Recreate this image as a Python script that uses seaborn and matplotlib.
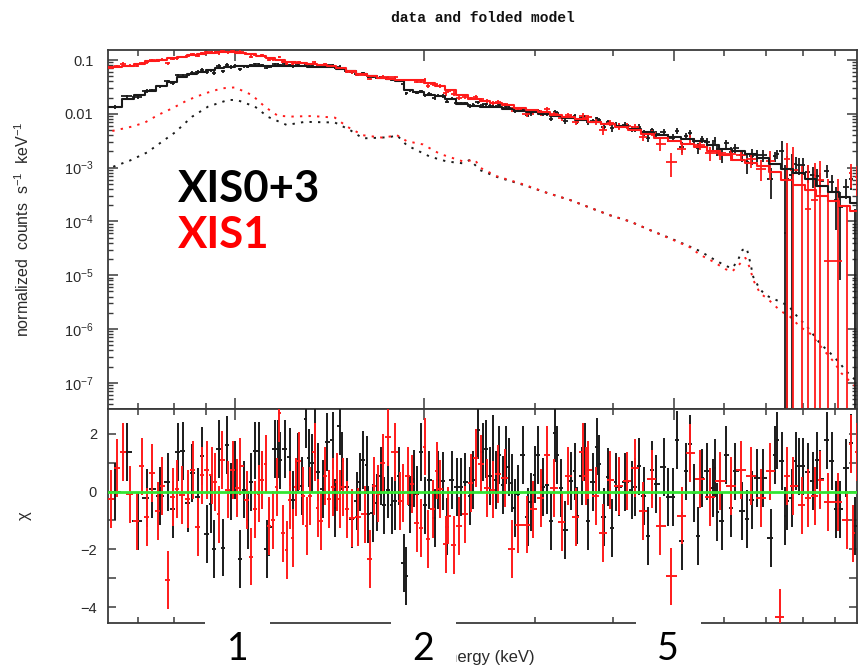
import numpy as np
import matplotlib
matplotlib.use("Agg")
import matplotlib.pyplot as plt
from matplotlib.patches import Rectangle
from matplotlib.ticker import FixedLocator, FixedFormatter, LogLocator, NullFormatter
import seaborn as sns

sns.set_style("ticks")
plt.rcParams["font.family"] = ["Liberation Sans", "DejaVu Sans"]
plt.rcParams["mathtext.fontset"] = "custom"
plt.rcParams["mathtext.rm"] = "Liberation Sans"
plt.rcParams["mathtext.it"] = "Liberation Sans:italic"
plt.rcParams["mathtext.bf"] = "Liberation Sans:bold"

# ---------------------------------------------------------------------------
# Folded model (counts s^-1 keV^-1) on a common energy grid (keV)
# ---------------------------------------------------------------------------
model_edges = [0.628, 0.66, 0.69, 0.72, 0.75, 0.78, 0.81, 0.84, 0.87, 0.90,
               0.93, 0.96, 1.00, 1.04, 1.08, 1.12, 1.16, 1.20, 1.25, 1.30,
               1.35, 1.40, 1.45, 1.50, 1.56, 1.62, 1.68, 1.74, 1.80, 1.86,
               1.92, 2.00, 2.08, 2.16, 2.25, 2.35, 2.45, 2.55, 2.66, 2.78,
               2.90, 3.03, 3.17, 3.32, 3.48, 3.65, 3.83, 4.02, 4.22, 4.43,
               4.65, 4.88, 5.12, 5.37, 5.63, 5.90, 6.18, 6.47, 6.77, 7.08,
               7.40, 7.73, 8.07, 8.42, 8.78, 9.15, 9.53, 9.80]

model_xis03 = [0.0134, 0.019, 0.0228, 0.027, 0.033, 0.0395, 0.048, 0.055, 0.061, 0.066,
               0.071, 0.074, 0.076, 0.078, 0.079, 0.079, 0.078, 0.077, 0.076, 0.075,
               0.075, 0.073, 0.068, 0.062, 0.055, 0.051, 0.047, 0.044, 0.041, 0.028,
               0.025, 0.0228, 0.021, 0.0185, 0.0155, 0.0142, 0.0136, 0.0133, 0.0125, 0.0115,
               0.0106, 0.0099, 0.0091, 0.0085, 0.0078, 0.0071, 0.0065, 0.0059, 0.0052, 0.0045,
               0.0040, 0.0037, 0.0034, 0.0031, 0.0026, 0.0022, 0.0020, 0.0018, 0.0015, 0.00118,
               0.00095, 0.00078, 0.00062, 0.00046, 0.00036, 0.00029, 0.00022]

model_xis1 = [0.073, 0.079, 0.084, 0.095, 0.101, 0.107, 0.115, 0.122, 0.130, 0.135,
              0.139, 0.140, 0.138, 0.130, 0.120, 0.108, 0.099, 0.093, 0.088, 0.085,
              0.082, 0.078, 0.070, 0.062, 0.055, 0.050, 0.047, 0.045, 0.043, 0.042,
              0.042, 0.038, 0.033, 0.028, 0.022, 0.019, 0.0172, 0.0160, 0.0145, 0.0130,
              0.0117, 0.0107, 0.0097, 0.0089, 0.0080, 0.0072, 0.0064, 0.0057, 0.0050, 0.0042,
              0.0036, 0.0031, 0.0027, 0.0024, 0.0020, 0.0017, 0.0014, 0.0012, 0.00105, 0.00082,
              0.00060, 0.00047, 0.00038, 0.00030, 0.00024, 0.00019, 0.000155]

# fractional 1-sigma errors of the binned data, per model bin
ferr_xis03 = ([0.08] * 3 + [0.07] * 9 + [0.05] * 19 + [0.07] * 9 + [0.10] * 6
              + [0.13] * 4 + [0.17] * 4 + [0.22] * 3 + [0.30] * 2 + [0.30]
              + [1.1] + [0.5] * 4 + [0.6] + [1.1])
ferr_xis1 = ([0.06] * 12 + [0.05] * 19 + [0.08] * 9 + [0.12] * 6 + [0.15] * 4
             + [0.20] * 4 + [0.28] * 3 + [0.38] * 2 + [0.9] + [2.5] * 7)

# ---------------------------------------------------------------------------
# Data bins (keV) and residuals (chi)
# ---------------------------------------------------------------------------
e_xis03 = [0.644, 0.673, 0.700, 0.724, 0.737, 0.759, 0.782, 0.797, 0.811, 0.826,
           0.841, 0.854, 0.873, 0.886, 0.902, 0.915, 0.926, 0.942, 0.957, 0.971,
           0.985, 1.000, 1.019, 1.033, 1.048, 1.060, 1.076, 1.091, 1.104, 1.124,
           1.132, 1.158, 1.170, 1.179, 1.201, 1.223, 1.237, 1.259, 1.278, 1.297,
           1.311, 1.326, 1.341, 1.355, 1.380, 1.400, 1.432, 1.442, 1.469, 1.480,
           1.507, 1.535, 1.563, 1.581, 1.598, 1.622, 1.627, 1.658, 1.682, 1.707,
           1.726, 1.751, 1.777, 1.797, 1.823, 1.857, 1.871, 1.899, 1.927, 1.948,
           1.977, 2.006, 2.035, 2.081, 2.103, 2.143, 2.174, 2.215, 2.255, 2.289,
           2.323, 2.366, 2.392, 2.435, 2.481, 2.508, 2.546, 2.574, 2.602, 2.630,
           2.670, 2.699, 2.728, 2.759, 2.790, 2.820, 2.873, 2.925, 2.958, 3.002,
           3.034, 3.091, 3.136, 3.183, 3.230, 3.253, 3.302, 3.351, 3.425, 3.476,
           3.501, 3.566, 3.605, 3.644, 3.713, 3.767, 3.793, 3.865, 3.921, 3.980,
           4.039, 4.082, 4.175, 4.283, 4.330, 4.392, 4.476, 4.541, 4.609, 4.676,
           4.816, 4.886, 4.978, 5.050, 5.144, 5.219, 5.298, 5.376, 5.453, 5.536,
           5.637, 5.763, 5.805, 5.847, 5.957, 6.044, 6.157, 6.247, 6.410, 6.527,
           6.649, 6.770, 6.922, 7.129, 7.233, 7.285, 7.421, 7.503, 7.557, 7.699,
           7.811, 7.895, 8.015, 8.161, 8.314, 8.435, 8.531, 8.750, 8.914, 9.044,
           9.180, 9.382, 9.557, 9.697]

chi_xis03 = [0.0, 1.36, -1.02, -0.23, 0.10, -0.14, 0.34, -0.62, 1.36, 1.40,
             -0.39, 0.65, -0.20, 1.24, -1.47, -0.44, -1.99, 1.48, -1.94, 1.62,
             0.0, 0.76, -2.34, 0.07, -0.99, 0.34, 1.42, 1.42, 0.41, -1.99,
             -1.24, 1.47, 1.48, 1.08, 1.48, 1.20, -0.30, 1.03, 0.20, 2.50,
             1.17, 1.00, 2.17, 0.69, 0.10, 1.73, 1.77, -0.56, 2.28, 1.05,
             0.15, -0.94, -0.33, 0.32, 1.10, 0.93, -0.79, -0.74, -0.38, 0.55,
             -0.48, 0.07, -0.48, -0.33, 0.55, -2.46, -2.92, -0.45, 0.45, -0.10,
             1.36, -0.48, 0.41, -0.91, 0.41, 0.36, -1.21, 0.41, 0.17, 0.17,
             0.32, -0.16, 0.41, 2.14, 1.36, 1.47, 0.53, 1.66, 0.41, 1.28,
             0.24, 1.28, 0.85, 0.30, -0.56, -0.08, 1.28, -0.87, -0.36, 0.59,
             1.28, 0.16, 0.24, -1.02, 2.02, 1.28, 0.13, -1.33, 0.36, 0.70,
             -0.83, 0.55, 1.36, -1.02, 0.32, 1.56, 0.97, -0.87, 0.51, -1.25,
             0.32, 0.16, 0.32, 0.05, 0.16, 0.87, -0.16, -1.54, 0.76, 0.27,
             0.85, -0.18, -0.18, 1.79, -1.71, 0.70, 1.66, -0.05, -1.54, 0.47,
             0.70, 0.13, 0.82, -0.71, -1.02, 1.28, -0.56, 0.70, -0.68, -0.94,
             -0.28, 0.47, 0.47, -1.60, 1.28, 1.77, 1.05, -0.85, -0.33, -0.22,
             1.05, 0.87, 0.87, 0.67, 0.36, 1.08, 0.44, 1.77, 1.05, -0.62,
             -0.62, 0.82, 1.68, -1.20]

e_xis1 = [0.635, 0.649, 0.663, 0.680, 0.698, 0.711, 0.724, 0.737, 0.754, 0.765,
          0.782, 0.797, 0.808, 0.823, 0.841, 0.857, 0.873, 0.886, 0.902, 0.919,
          0.929, 0.942, 0.953, 0.974, 0.993, 1.007, 1.019, 1.045, 1.060, 1.076,
          1.091, 1.104, 1.120, 1.132, 1.149, 1.166, 1.174, 1.192, 1.210, 1.223,
          1.237, 1.250, 1.264, 1.283, 1.302, 1.316, 1.341, 1.355, 1.370, 1.391,
          1.410, 1.432, 1.453, 1.469, 1.485, 1.507, 1.535, 1.569, 1.610, 1.640,
          1.664, 1.688, 1.720, 1.751, 1.797, 1.831, 1.851, 1.884, 1.913, 1.948,
          1.977, 2.006, 2.028, 2.066, 2.096, 2.119, 2.166, 2.182, 2.231, 2.271,
          2.323, 2.374, 2.418, 2.463, 2.517, 2.574, 2.620, 2.689, 2.759, 2.820,
          2.914, 2.980, 3.069, 3.136, 3.218, 3.314, 3.387, 3.488, 3.579, 3.618,
          3.644, 3.753, 3.851, 3.952, 4.082, 4.204, 4.330, 4.459, 4.609, 4.746,
          4.942, 5.144, 5.298, 5.496, 5.701, 5.913, 6.157, 6.387, 6.625, 6.872,
          7.103, 7.368, 7.557, 7.727, 7.986, 8.161, 8.375, 8.531, 8.781, 9.109,
          9.415, 9.557, 9.627, 9.767]

chi_xis1 = [-0.25, 0.82, 1.36, -0.10, -1.02, 0.87, -0.87, 0.64, -0.67, 0.20,
            -3.06, -0.20, 0.10, -0.11, -0.25, 0.76, -1.22, 0.56, 0.76, 0.56,
            0.32, -0.79, 1.10, 0.07, 0.76, 0.13, 0.87, -0.28, -2.25, -0.62,
            -0.07, 0.41, 0.97, -1.20, -0.99, 0.16, 2.71, -1.45, -2.02, -0.30,
            -1.60, 0.16, 1.05, -0.16, -1.20, -0.16, 1.36, -0.56, -1.02, 0.53,
            -0.25, 0.16, 0.32, -0.25, 0.16, -0.62, -0.91, -0.87, -0.79, -2.34,
            0.20, -0.07, 0.99, 1.89, 1.36, -0.33, -0.05, 0.53, 0.27, -1.10,
            -1.25, 1.56, -1.63, -0.60, 0.73, 0.09, -1.83, -0.83, -1.86, -1.20,
            -0.79, 0.30, 1.16, 0.97, 0.13, 0.07, 0.62, 0.47, -1.98, -1.14,
            -1.14, -0.62, -0.22, 1.28, 0.13, -1.06, 0.55, -0.87, 1.36, 0.55,
            0.76, -0.16, -1.43, 0.39, 0.20, 0.36, 0.82, -0.68, 0.44, -1.20,
            -2.94, -0.83, 1.33, 0.44, -0.18, 0.36, 0.20, 0.76, 0.53, -0.22,
            0.70, -4.36, 0.55, 0.20, -0.48, -0.22, -0.14, 0.39, -0.37, -0.37,
            -0.99, 1.66, -1.45, 1.36]

# ---------------------------------------------------------------------------
# Additive model component (dotted)
# ---------------------------------------------------------------------------
comp_e_xis03 = [0.640, 0.680, 0.725, 0.759, 0.803, 0.854, 0.906, 0.975, 1.007, 1.076,
                1.128, 1.209, 1.292, 1.442, 1.524, 1.598, 1.701, 1.765, 1.810, 1.877,
                1.948, 2.043, 2.174, 2.308, 2.366, 2.454, 2.612, 2.873, 3.136, 3.413,
                3.672, 3.952, 4.252, 4.575, 4.923, 5.298, 5.496, 5.77, 6.03, 6.18,
                6.30, 6.42, 6.52, 6.60, 6.68, 6.83, 6.98, 7.10, 7.29, 7.60,
                7.85, 8.14, 8.53, 8.85, 9.18, 9.36, 9.77]
comp_xis03 = [1.04e-3, 1.35e-3, 1.92e-3, 2.83e-3, 4.53e-3, 8.8e-3, 1.36e-2, 1.81e-2, 1.81e-2, 1.36e-2,
              8.8e-3, 6.2e-3, 7.1e-3, 6.9e-3, 5.0e-3, 3.5e-3, 3.6e-3, 3.7e-3, 4.0e-3, 2.6e-3,
              2.1e-3, 1.6e-3, 1.3e-3, 1.2e-3, 1.4e-3, 9.0e-4, 6.7e-4, 4.8e-4, 3.4e-4, 2.5e-4,
              1.8e-4, 1.3e-4, 1.0e-4, 6.9e-5, 4.9e-5, 3.4e-5, 2.8e-5, 2.0e-5, 1.5e-5, 1.35e-5,
              1.8e-5, 2.95e-5, 3.2e-5, 1.8e-5, 9.3e-6, 5.7e-6, 4.3e-6, 3.9e-6, 3.4e-6, 2.7e-6,
              1.7e-6, 1.1e-6, 5.4e-7, 3.6e-7, 2.3e-7, 1.7e-7, 1.05e-7]

comp_e_xis1 = [0.638, 0.686, 0.719, 0.754, 0.794, 0.841, 0.896, 0.953, 1.000, 1.064,
               1.116, 1.170, 1.232, 1.326, 1.442, 1.507, 1.598, 1.720, 1.810, 1.877,
               1.991, 2.119, 2.308, 2.41, 2.454, 2.612, 2.873, 3.136, 3.413, 3.672,
               3.952, 4.252, 4.575, 4.923, 5.298, 5.496, 5.763, 6.03, 6.18, 6.30,
               6.49, 6.60, 6.68, 6.85, 7.03, 7.37, 7.64, 7.93, 8.22, 8.64,
               8.96, 9.23, 9.71]
comp_xis1 = [4.8e-3, 5.8e-3, 6.9e-3, 9.5e-3, 1.26e-2, 1.8e-2, 2.4e-2, 2.98e-2, 3.1e-2, 2.24e-2,
             1.35e-2, 9.2e-3, 8.9e-3, 9.1e-3, 8.5e-3, 5.8e-3, 4.0e-3, 3.6e-3, 4.0e-3, 3.1e-3,
             2.7e-3, 1.8e-3, 1.3e-3, 1.4e-3, 1.0e-3, 6.9e-4, 4.9e-4, 3.4e-4, 2.5e-4, 1.8e-4,
             1.3e-4, 1.0e-4, 6.9e-5, 4.8e-5, 3.3e-5, 2.4e-5, 1.8e-5, 1.3e-5, 1.17e-5, 1.45e-5,
             2.1e-5, 1.35e-5, 8.1e-6, 4.6e-6, 3.7e-6, 2.2e-6, 1.7e-6, 1.1e-6, 8.3e-7, 4.1e-7,
             2.5e-7, 1.5e-7, 8.5e-8]

energy_ticks = [1, 2, 5]
energy_tick_labels = ["1", "2", "5"]
flux_ticks = [1e-7, 1e-6, 1e-5, 1e-4, 1e-3, 1e-2, 1e-1]
flux_tick_labels = [r"$10^{-7}$", r"$10^{-6}$", r"$10^{-5}$", r"$10^{-4}$",
                    r"$10^{-3}$", "0.01", "0.1"]
chi_ticks = [-4, -2, 0, 2]
chi_tick_labels = ["\u22124", "\u22122", "0", "2"]


def log_bin_edges(centres):
    lc = np.log10(np.asarray(centres, dtype=float))
    mid = 0.5 * (lc[1:] + lc[:-1])
    lo = np.concatenate([[2 * lc[0] - mid[0]], mid])
    hi = np.concatenate([mid, [2 * lc[-1] - mid[-1]]])
    return 10 ** lo, 10 ** hi


def folded_data(energy, chi, model, ferr):
    idx = np.searchsorted(model_edges, energy, side="right") - 1
    idx = np.clip(idx, 0, len(model) - 1)
    m = np.asarray(model)[idx]
    f = np.asarray(ferr)[idx]
    value = m * (1.0 + np.asarray(chi) * f)
    return value, m * f


INK_BLACK = "#1a1a1a"
INK_RED = "#ff1a1a"
AXIS_INK = "#3a3a3a"
TXT_INK = "#2a2a2a"

fig = plt.figure(figsize=(8.58, 6.68), dpi=100)
ax_top = fig.add_axes([0.1259, 0.3877, 0.8730, 0.5374])
ax_bot = fig.add_axes([0.1259, 0.0674, 0.8730, 0.3203], sharex=ax_top)

ax_top.set_xscale("log")
ax_top.set_yscale("log")
ax_top.set_xlim(0.628, 9.77)
ax_top.set_ylim(3.26e-8, 0.1534)
ax_bot.set_ylim(-4.55, 2.86)

FLOOR = 1e-10
series = [
    (e_xis03, chi_xis03, model_xis03, ferr_xis03, comp_e_xis03, comp_xis03, INK_BLACK),
    (e_xis1, chi_xis1, model_xis1, ferr_xis1, comp_e_xis1, comp_xis1, INK_RED),
]

for energy, chi, model, ferr, ce, cv, ink in series:
    energy = np.asarray(energy)
    chi = np.asarray(chi)
    lo, hi = log_bin_edges(energy)
    value, err = folded_data(energy, chi, model, ferr)

    # data with 1-sigma errors
    upper = value + err
    lower = np.maximum(value - err, FLOOR)
    ok = upper > FLOOR
    ax_top.vlines(energy[ok], lower[ok], upper[ok], color=ink, lw=1.3, zorder=3)
    pos = value > 0
    ax_top.hlines(value[pos], lo[pos], hi[pos], color=ink, lw=1.3, zorder=3)

    # folded model histogram
    sns.lineplot(x=model_edges, y=list(model) + [model[-1]], ax=ax_top,
                 estimator=None, drawstyle="steps-post", color=ink, lw=1.5, zorder=4)

    # additive component
    sns.lineplot(x=ce, y=cv, ax=ax_top, estimator=None, color=ink, lw=1.4, zorder=2)
    ax_top.lines[-1].set_linestyle((0, (1.2, 3.2)))

    # residuals
    ax_bot.vlines(energy, chi - 1.0, chi + 1.0, color=ink, lw=1.4, zorder=3)
    ax_bot.hlines(chi, lo, hi, color=ink, lw=1.4, zorder=3)

ax_bot.axhline(0.0, color="#33e633", lw=2.0, zorder=5)

# --- axes styling --------------------------------------------------------
for ax in (ax_top, ax_bot):
    for sp in ax.spines.values():
        sp.set_color(AXIS_INK)
        sp.set_linewidth(1.3)
    ax.xaxis.set_major_locator(FixedLocator(energy_ticks))
    ax.xaxis.set_minor_locator(FixedLocator([0.7, 0.8, 0.9, 3, 4, 6, 7, 8, 9]))
    ax.xaxis.set_major_formatter(NullFormatter())
    ax.xaxis.set_minor_formatter(NullFormatter())
    ax.tick_params(axis="x", which="major", direction="in", length=8, width=1.1,
                   color=AXIS_INK, top=True, bottom=True, labelbottom=False)
    ax.tick_params(axis="x", which="minor", direction="in", length=4, width=1.1,
                   color=AXIS_INK, top=True, bottom=True, labelbottom=False)

ax_top.yaxis.set_major_locator(FixedLocator(flux_ticks))
ax_top.yaxis.set_major_formatter(FixedFormatter(flux_tick_labels))
ax_top.yaxis.set_minor_locator(LogLocator(base=10, subs=np.arange(2, 10)))
ax_top.yaxis.set_minor_formatter(NullFormatter())
ax_top.tick_params(axis="y", which="major", direction="in", length=7, width=1.1,
                   color=AXIS_INK, left=True, right=True, labelsize=10.5,
                   labelcolor=TXT_INK, pad=10.5)
ax_top.tick_params(axis="y", which="minor", direction="in", length=3.5, width=1.0,
                   color=AXIS_INK, left=True, right=True)

ax_bot.yaxis.set_major_locator(FixedLocator(chi_ticks))
ax_bot.yaxis.set_major_formatter(FixedFormatter(chi_tick_labels))
ax_bot.yaxis.set_minor_locator(FixedLocator([-3, -1, 1]))
ax_bot.tick_params(axis="y", which="both", direction="in", length=6, width=1.1,
                   color=AXIS_INK, left=True, right=True, labelsize=10.5,
                   labelcolor=TXT_INK, pad=8)

ax_top.set_ylabel("normalized  counts  s$^{-1}$  keV$^{-1}$", fontsize=11.5, color=TXT_INK)
ax_top.yaxis.set_label_coords(-0.1015, 0.5)
ax_bot.set_ylabel("\u03c7", fontsize=12, color=TXT_INK)
ax_bot.yaxis.set_label_coords(-0.1015, 0.5)
ax_bot.set_xlabel("Energy (keV)", fontsize=12, color=TXT_INK)
ax_bot.xaxis.set_label_coords(0.505, -0.126)

fig.text(0.5625, 0.973, "data and folded model", family="Liberation Mono",
         weight="bold", fontsize=10.5, ha="center", va="center", color="#111111")

# --- detector labels ----------------------------------------------------
fig.text(178 / 858, 1 - 202 / 668, "XIS0+3", family="Lato", weight="bold",
         fontsize=31.5, color="black", ha="left", va="baseline")
fig.text(178 / 858, 1 - 248 / 668, "XIS1", family="Lato", weight="bold",
         fontsize=31.5, color="red", ha="left", va="baseline")

# --- enlarged energy tick labels on white patches -------------------------
W, H = fig.bbox.width, fig.bbox.height
nudges = [3, -1, -6]
for tick, lab, dx in zip(energy_ticks, energy_tick_labels, nudges):
    xd = ax_bot.transData.transform((tick, 0.0))[0] + dx
    fig.add_artist(Rectangle(((xd - 32.5) / W, 0.0), 65 / W, 56 / H,
                             transform=fig.transFigure, facecolor="white",
                             edgecolor="none", zorder=2))
    fig.text(xd / W, 1.0 / H, lab, family="Lato", fontsize=27, color="black",
             ha="center", va="bottom", zorder=3)

fig.savefig("out.png", dpi=100)
